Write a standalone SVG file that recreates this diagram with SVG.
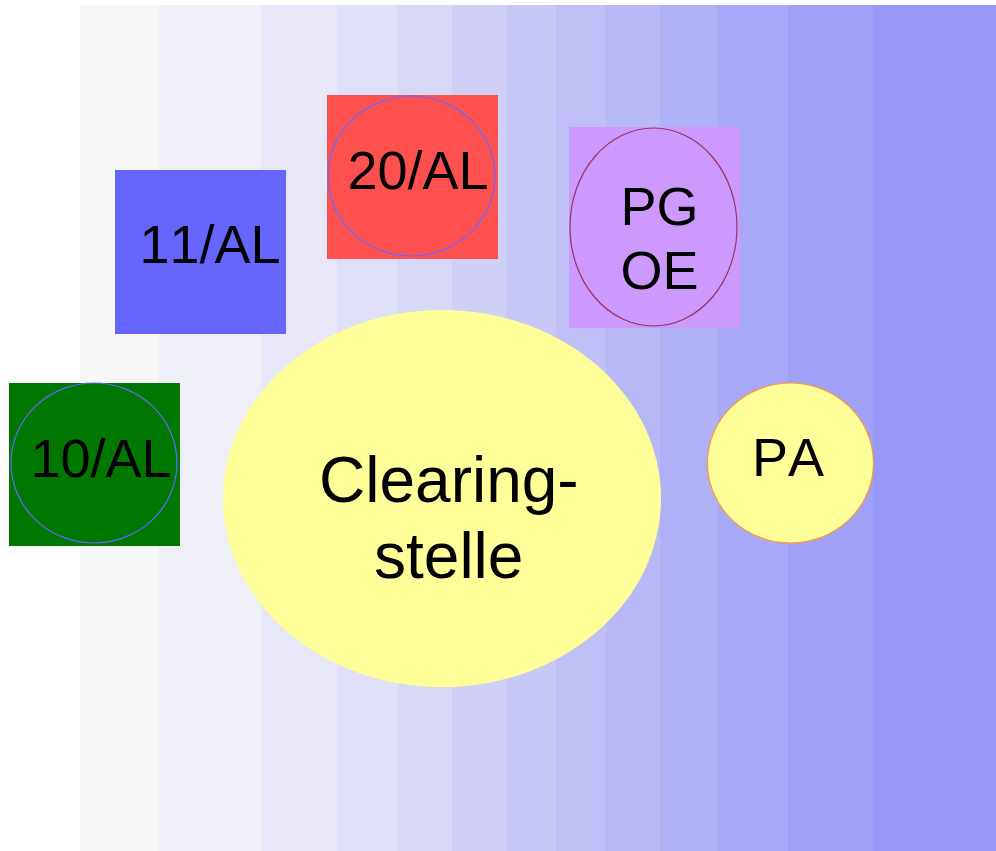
<svg xmlns="http://www.w3.org/2000/svg" width="996" height="851" viewBox="0 0 996 851">
<style>
  .lbl { font-family: "Liberation Sans", Arial, sans-serif; font-size: 54px; fill: #000; font-kerning: none; }
  .big { font-size: 64px; }
  .ring { fill: none; stroke-width: 1.2; }
</style>
<rect x="0" y="0" width="996" height="851" fill="#ffffff"/>
<g id="background">
  <rect x="80" y="5" width="79" height="846" fill="#f7f7f8"/>
  <rect x="159" y="5" width="102" height="846" fill="#efeff8"/>
  <rect x="261" y="5" width="76" height="846" fill="#e7e7f7"/>
  <rect x="337" y="5" width="61" height="846" fill="#dfdff7"/>
  <rect x="398" y="5" width="54" height="846" fill="#d7d7f6"/>
  <rect x="452" y="5" width="54" height="846" fill="#d0d0f6"/>
  <rect x="506" y="5" width="50" height="846" fill="#c8c8f6"/>
  <rect x="556" y="5" width="50" height="846" fill="#c0c0f6"/>
  <rect x="606" y="5" width="54" height="846" fill="#b8b8f6"/>
  <rect x="660" y="5" width="58" height="846" fill="#b0b0f6"/>
  <rect x="718" y="5" width="70" height="846" fill="#a8a8f8"/>
  <rect x="788" y="5" width="85" height="846" fill="#a0a0f6"/>
  <rect x="873" y="5" width="123" height="846" fill="#9898f6"/>
</g>
<g id="connectors"></g>
<g id="node-10AL">
  <rect x="9" y="383" width="171" height="163" fill="#007800"/>
  <ellipse class="ring" cx="94" cy="463" rx="83" ry="80" stroke="#6666ff"/>
  <text class="lbl" x="30.5" y="477">10/AL</text>
</g>
<g id="node-11AL">
  <rect x="115" y="170" width="171" height="164" fill="#6666ff"/>
  <text class="lbl" x="139.5" y="263">11/AL</text>
</g>
<g id="node-20AL">
  <rect x="327" y="95" width="171" height="164" fill="#ff5050"/>
  <ellipse class="ring" cx="411.5" cy="176" rx="83.5" ry="80" stroke="#6666ff"/>
  <text class="lbl" x="347.5" y="189">20/AL</text>
</g>
<g id="node-PGOE">
  <rect x="569" y="127" width="171" height="201" fill="#cc99ff"/>
  <ellipse class="ring" cx="653.5" cy="227" rx="83.5" ry="99" stroke="#993366"/>
  <text class="lbl" x="620.5" y="225">PG</text>
  <text class="lbl" x="620.5" y="289">OE</text>
</g>
<g id="node-PA">
  <ellipse cx="790.5" cy="463" rx="83" ry="80" fill="#ffff99" stroke="#ff9933" stroke-width="1.2"/>
  <text class="lbl" x="752" y="476">PA</text>
</g>
<g id="node-Clearingstelle">
  <ellipse cx="442" cy="498.5" rx="219" ry="188.5" fill="#ffff99"/>
  <text class="lbl big" x="319" y="502">Clearing-</text>
  <text class="lbl big" x="374" y="578">stelle</text>
</g>
</svg>
